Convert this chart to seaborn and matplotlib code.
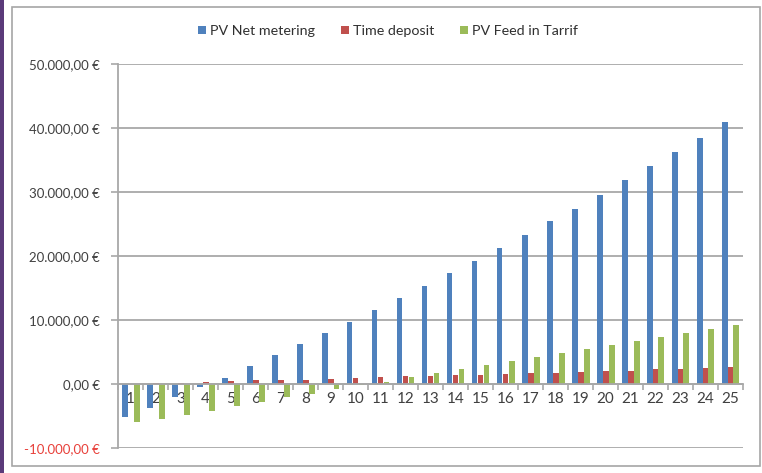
import numpy as np
import pandas as pd
import matplotlib
matplotlib.use("Agg")
import matplotlib.pyplot as plt
import matplotlib.ticker as mticker
from matplotlib.patches import Rectangle, Patch
import seaborn as sns

# Values (euros)
years = list(range(1, 26))
net_metering = [-5100, -3700, -2000, -400, 1000, 2800, 4500, 6200, 8000, 9700,
                11600, 13500, 15350, 17300, 19200, 21200, 23300, 25400, 27400, 29600,
                31800, 34000, 36250, 38500, 40900]
time_deposit = [50, 100, 200, 300, 450, 550, 600, 700, 800, 900,
                1050, 1200, 1250, 1400, 1450, 1550, 1650, 1770, 1900, 2000,
                2100, 2300, 2400, 2500, 2600]
feed_in = [-6000, -5500, -4800, -4200, -3400, -2800, -2100, -1500, -800, -200,
           250, 1100, 1650, 2400, 3000, 3600, 4200, 4900, 5500, 6100,
           6700, 7400, 8000, 8600, 9200]
series_names = ["PV Net metering", "Time deposit", "PV Feed in Tarrif"]
colors = ["#4F81BD", "#C0504D", "#9BBB59"]

sns.set_theme(style="white")
plt.rcParams['font.family'] = ['Lato', 'DejaVu Sans']

df = pd.DataFrame({
    "Year": [str(y) for y in years] * 3,
    "Value": net_metering + time_deposit + feed_in,
    "Series": [series_names[0]] * 25 + [series_names[1]] * 25 + [series_names[2]] * 25,
})

fig = plt.figure(figsize=(7.62, 4.73), dpi=100)
fig.patch.set_facecolor("white")
ax = fig.add_axes([118 / 762, 1 - 448 / 473, (743 - 118) / 762, (448 - 64) / 473])

sns.barplot(data=df, x="Year", y="Value", hue="Series", palette=colors,
            width=0.72, gap=0, ax=ax, legend=False, saturation=1, linewidth=0)

ax.set_xlim(-0.5, 24.5)
ax.set_ylim(-10000, 50000)
ax.set_yticks(np.arange(-10000, 50001, 10000))

def euro(v, pos):
    s = f"{abs(v):,.2f}".replace(",", "X").replace(".", ",").replace("X", ".")
    return ("-" if v < 0 else "") + s + " €"

ax.yaxis.set_major_formatter(mticker.FuncFormatter(euro))
ax.grid(axis="y", color="#a8a8a8", linewidth=1.3)
ax.set_axisbelow(True)
ax.set_xlabel("")
ax.set_ylabel("")

for side in ["top", "right"]:
    ax.spines[side].set_visible(False)
ax.spines["left"].set_color("#a8a8a8")
ax.spines["left"].set_linewidth(1.3)
ax.spines["bottom"].set_position(("data", 0))
ax.spines["bottom"].set_color("#a8a8a8")
ax.spines["bottom"].set_linewidth(1.3)

ax.tick_params(axis="y", which="major", length=5, width=1.2, color="#a8a8a8",
               labelsize=9.5, labelcolor="#404040", pad=8, left=True)
ax.tick_params(axis="x", which="major", length=0, labelsize=11,
               labelcolor="#404040", pad=6)
ax.set_xticks(np.arange(-0.5, 25, 1), minor=True)
ax.tick_params(axis="x", which="minor", length=4, width=1.2, color="#a8a8a8",
               direction="out", bottom=True)
for lbl in ax.get_yticklabels():
    if lbl.get_text().startswith("-"):
        lbl.set_color("#e8403a")

handles = [Patch(facecolor=c, edgecolor="none") for c in colors]
fig.legend(handles, series_names, loc="center", bbox_to_anchor=(388 / 762, 1 - 31 / 473),
           ncol=3, frameon=False, fontsize=10.3, handlelength=0.55, handleheight=0.55,
           handletextpad=0.3, columnspacing=1.8, labelcolor="#303030")

# chart frame and left purple strip
fig.patches.append(Rectangle((12 / 762, 1 - 466 / 473), (760 - 12) / 762, (466 - 7) / 473,
                             transform=fig.transFigure, fill=False,
                             edgecolor="#a6a6a6", linewidth=1.2))
fig.patches.append(Rectangle((0, 0), 3.5 / 762, 1, transform=fig.transFigure,
                             facecolor="#5b3a7a", edgecolor="none"))

fig.savefig("out.png", dpi=100)
